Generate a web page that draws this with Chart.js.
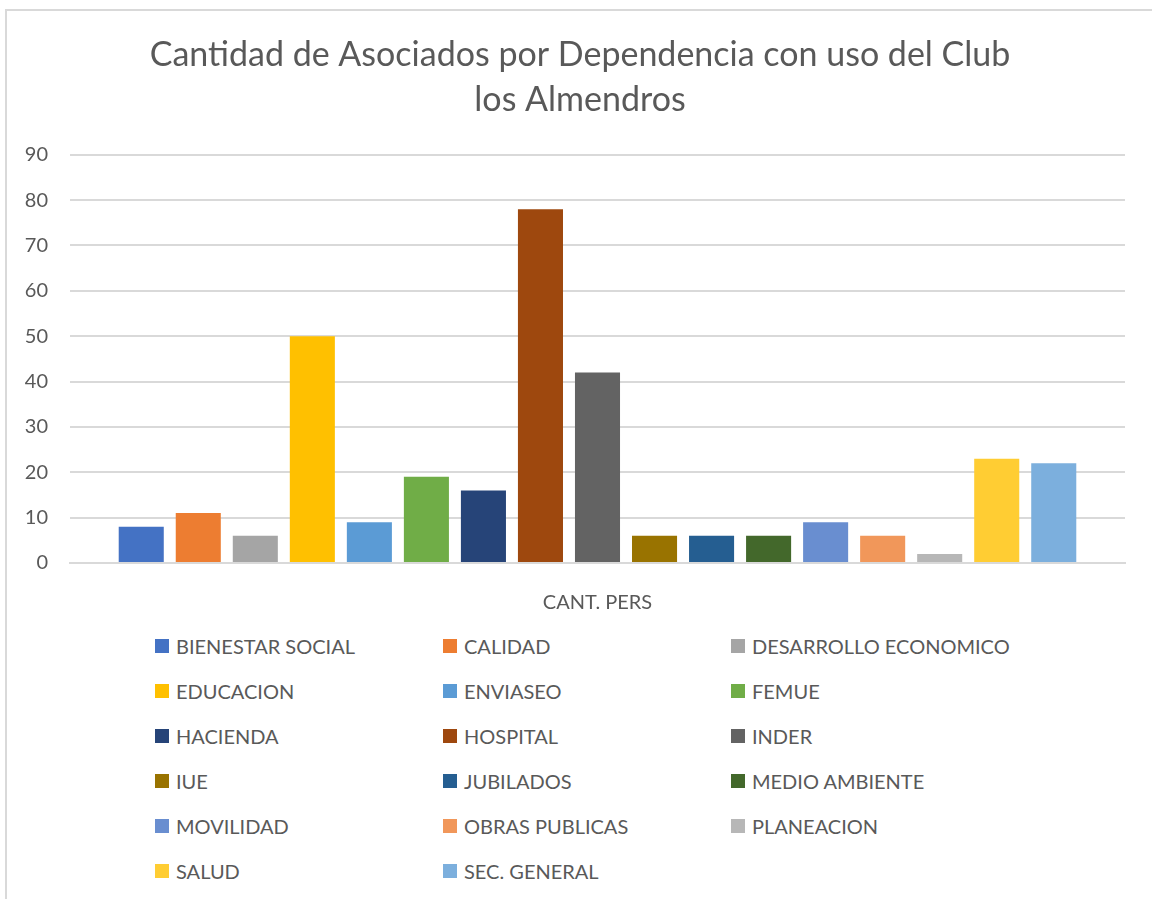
<!DOCTYPE html>
<html>
<head>
<meta charset="utf-8">
<title>Cantidad de Asociados por Dependencia</title>
<script src="https://cdn.jsdelivr.net/npm/chart.js@4"></script>
<style>
    html, body {
        margin: 0;
        padding: 0;
        background: #ffffff;
    }
    #frame {
        position: absolute;
        left: 5px;
        top: 9px;
        width: 1160px;
        height: 900px;
        border-left: 2px solid #d9d9d9;
        border-top: 2px solid #d9d9d9;
    }
    #chart {
        position: absolute;
        left: 0;
        top: 0;
    }
    #legend {
        position: absolute;
        left: 148px;
        top: 612px;
        display: grid;
        grid-template-columns: 288px 288px 288px;
        grid-auto-rows: 45px;
        font-family: Lato, "Noto Sans", sans-serif;
        font-size: 20px;
        color: #595959;
    }
    .item {
        display: flex;
        align-items: center;
    }
    .box {
        width: 14px;
        height: 14px;
        margin-right: 7px;
    }
</style>
</head>
<body>
<div id="frame">
    <canvas id="chart" width="1145" height="602"></canvas>
    <div id="legend"></div>
</div>

<script>
// ----------------------------------------------------------
// DATA
// ----------------------------------------------------------
const categories = ["CANT. PERS"];

const dependencias = [
    "BIENESTAR SOCIAL", "CALIDAD", "DESARROLLO ECONOMICO",
    "EDUCACION", "ENVIASEO", "FEMUE",
    "HACIENDA", "HOSPITAL", "INDER",
    "IUE", "JUBILADOS", "MEDIO AMBIENTE",
    "MOVILIDAD", "OBRAS PUBLICAS", "PLANEACION",
    "SALUD", "SEC. GENERAL"
];

const cantidades = [8, 11, 6, 50, 9, 19, 16, 78, 42, 6, 6, 6, 9, 6, 2, 23, 22];

const yTicks = [0, 10, 20, 30, 40, 50, 60, 70, 80, 90];

const colores = [
    "#4472C4", "#ED7D31", "#A5A5A5",
    "#FFC000", "#5B9BD5", "#70AD47",
    "#264478", "#9E480E", "#636363",
    "#997300", "#255E91", "#43682B",
    "#698ED0", "#F1975A", "#B7B7B7",
    "#FFCD33", "#7CAFDD"
];

const textColor = "#595959";
const gridColor = "#d9d9d9";
const fontName = "Lato, 'Noto Sans', sans-serif";

// ----------------------------------------------------------
// BUILD CHART
// ----------------------------------------------------------
const datasets = dependencias.map(function (name, i) {
    return {
        label: name,
        data: [cantidades[i]],
        backgroundColor: colores[i],
        borderWidth: 0
    };
});

// title is centred on the whole frame, not on the padded box
const centreTitle = {
    id: "centreTitle",
    afterLayout: function (chart) {
        chart.titleBlock.left += 14;
        chart.titleBlock.right += 14;
    }
};

const ctx = document.getElementById("chart").getContext("2d");
const chart = new Chart(ctx, {
    type: "bar",
    data: {
        labels: categories,
        datasets: datasets
    },
    plugins: [centreTitle],
    options: {
        responsive: false,
        animation: false,
        datasets: {
            bar: {
                categoryPercentage: 0.919,
                barPercentage: 0.79
            }
        },
        layout: {
            padding: { left: 0, right: 27, top: 0, bottom: 0 }
        },
        plugins: {
            legend: { display: false },
            tooltip: { enabled: false },
            title: {
                display: true,
                text: ["Cantidad de Asociados por Dependencia con uso del Club", "los Almendros"],
                color: textColor,
                font: { family: fontName, size: 34, weight: "normal", lineHeight: 1.32 },
                padding: { top: 22, bottom: 32 }
            }
        },
        scales: {
            x: {
                grid: { display: false },
                border: { color: gridColor, width: 2 },
                ticks: {
                    color: textColor,
                    font: { family: fontName, size: 20 },
                    padding: 20
                },
                afterFit: function (scale) { scale.height = 50; }
            },
            y: {
                min: 0,
                max: 90,
                afterBuildTicks: function (scale) {
                    scale.ticks = yTicks.map(function (v) { return { value: v }; });
                },
                grid: { color: gridColor, lineWidth: 2, drawTicks: false },
                border: { display: false },
                ticks: {
                    color: textColor,
                    font: { family: fontName, size: 20 },
                    padding: 22
                },
                afterFit: function (scale) { scale.width = 63; }
            }
        }
    }
});

// ----------------------------------------------------------
// LEGEND (3 columns, like the Excel one)
// ----------------------------------------------------------
const legendEl = document.getElementById("legend");
chart.data.datasets.forEach(function (ds) {
    const item = document.createElement("div");
    item.className = "item";
    const box = document.createElement("span");
    box.className = "box";
    box.style.background = ds.backgroundColor;
    const txt = document.createElement("span");
    txt.textContent = ds.label;
    item.appendChild(box);
    item.appendChild(txt);
    legendEl.appendChild(item);
});
</script>
</body>
</html>
